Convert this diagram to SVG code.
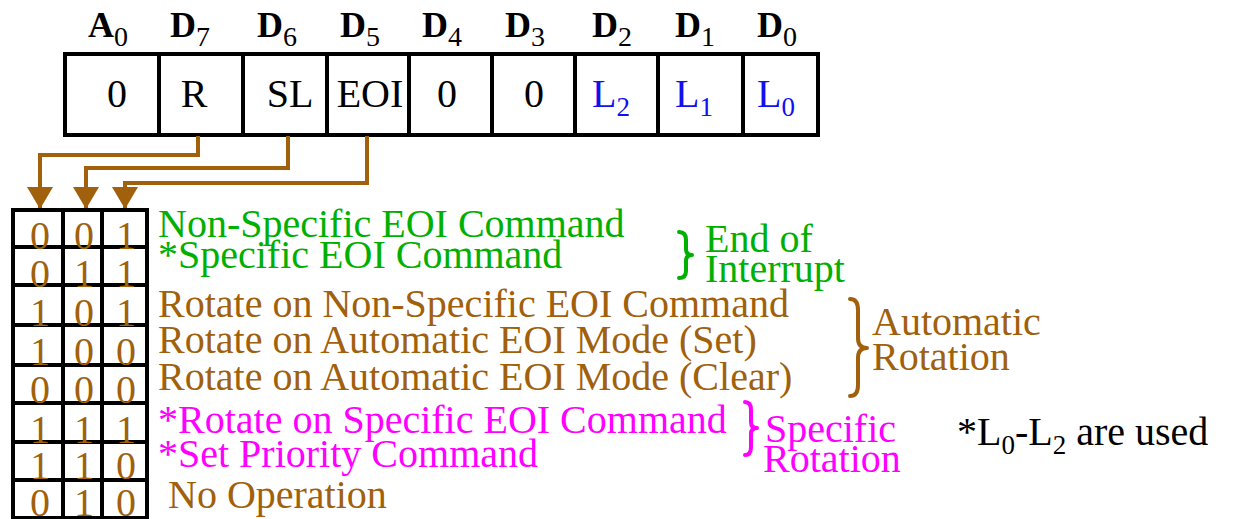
<svg xmlns="http://www.w3.org/2000/svg" width="1236" height="519" viewBox="0 0 1236 519">
  <style>
    text { font-family: "Liberation Serif", "Times New Roman", serif; }
    .hdr { font-size: 36px; font-weight: bold; fill: #000; }
    .hsub { font-size: 28px; font-weight: normal; }
    .cell { font-size: 40px; fill: #000; }
    .sub { font-size: 27px; }
    .blue { fill: #1010f0; }
    .line { fill: none; stroke: #000; stroke-width: 4; }
    .bit { font-size: 40px; fill: #a0600c; text-anchor: middle; }
    .desc { font-size: 40px; }
    .green { fill: #00b000; }
    .brown { fill: #a0600c; }
    .mag { fill: #ff00ff; }
    .wire { fill: none; stroke: #a0600c; stroke-width: 4; }
    .brace { fill: none; stroke-width: 4; stroke-linecap: round; stroke-linejoin: round; }
  </style>
  <defs>
    <!-- head drawn along +x; orient="auto" turns it to follow the wire -->
    <marker id="arrow" markerUnits="userSpaceOnUse" markerWidth="22" markerHeight="26" refX="21" refY="13" orient="auto" viewBox="0 0 22 26">
      <path d="M0,0 L22,13 L0,26 Z" fill="#a0600c"/>
    </marker>
  </defs>

  <rect width="1236" height="519" fill="#fff"/>

  <!-- bit position labels -->
  <g id="bit-labels">
    <text class="hdr" x="88" y="37">A<tspan class="hsub" dy="9">0</tspan></text>
    <text class="hdr" x="170" y="37">D<tspan class="hsub" dy="9">7</tspan></text>
    <text class="hdr" x="257" y="37">D<tspan class="hsub" dy="9">6</tspan></text>
    <text class="hdr" x="340" y="37">D<tspan class="hsub" dy="9">5</tspan></text>
    <text class="hdr" x="422" y="37">D<tspan class="hsub" dy="9">4</tspan></text>
    <text class="hdr" x="505" y="37">D<tspan class="hsub" dy="9">3</tspan></text>
    <text class="hdr" x="592" y="37">D<tspan class="hsub" dy="9">2</tspan></text>
    <text class="hdr" x="675" y="37">D<tspan class="hsub" dy="9">1</tspan></text>
    <text class="hdr" x="757" y="37">D<tspan class="hsub" dy="9">0</tspan></text>
  </g>

  <!-- OCW2 register -->
  <g id="register">
    <rect class="line" x="65" y="54" width="753" height="81"/>
    <path class="line" d="M159,54V135 M243,54V135 M327,54V135 M409,54V135 M492,54V135 M575,54V135 M658,54V135 M743,54V135"/>
    <text class="cell" x="117" y="107" text-anchor="middle">0</text>
    <text class="cell" x="194" y="107" text-anchor="middle">R</text>
    <text class="cell" x="290" y="107" text-anchor="middle">SL</text>
    <text class="cell" x="370" y="107" text-anchor="middle">EOI</text>
    <text class="cell" x="447" y="107" text-anchor="middle">0</text>
    <text class="cell" x="534" y="107" text-anchor="middle">0</text>
    <text class="cell blue" x="592" y="107">L<tspan class="sub" dy="9">2</tspan></text>
    <text class="cell blue" x="675" y="107">L<tspan class="sub" dy="9">1</tspan></text>
    <text class="cell blue" x="757" y="107">L<tspan class="sub" dy="9">0</tspan></text>
  </g>

  <!-- R, SL, EOI routed down to the truth table -->
  <g id="connectors">
    <path class="wire" d="M198,136 V155 H40 V208" marker-end="url(#arrow)"/>
    <path class="wire" d="M288,136 V168 H86 V208" marker-end="url(#arrow)"/>
    <path class="wire" d="M367,136 V183 H125 V208" marker-end="url(#arrow)"/>
  </g>

  <!-- R / SL / EOI combinations -->
  <g id="truth-table">
    <rect class="line" x="13" y="210" width="134" height="310"/>
    <path class="line" d="M63,210V520 M102,210V520 M13,247H147 M13,285H147 M13,325H147 M13,365H147 M13,403H147 M13,442H147 M13,480H147 M13,518H147"/>
    <text class="bit" x="40" y="249">0</text><text class="bit" x="84" y="249">0</text><text class="bit" x="126" y="249">1</text>
    <text class="bit" x="40" y="287">0</text><text class="bit" x="84" y="287">1</text><text class="bit" x="126" y="287">1</text>
    <text class="bit" x="40" y="326">1</text><text class="bit" x="84" y="326">0</text><text class="bit" x="126" y="326">1</text>
    <text class="bit" x="40" y="365">1</text><text class="bit" x="84" y="365">0</text><text class="bit" x="126" y="365">0</text>
    <text class="bit" x="40" y="403">0</text><text class="bit" x="84" y="403">0</text><text class="bit" x="126" y="403">0</text>
    <text class="bit" x="40" y="443">1</text><text class="bit" x="84" y="443">1</text><text class="bit" x="126" y="443">1</text>
    <text class="bit" x="40" y="479">1</text><text class="bit" x="84" y="479">1</text><text class="bit" x="126" y="479">0</text>
    <text class="bit" x="40" y="516">0</text><text class="bit" x="84" y="516">1</text><text class="bit" x="126" y="516">0</text>
  </g>

  <!-- command descriptions -->
  <g id="descriptions">
    <text class="desc green" x="158" y="237">Non-Specific EOI Command</text>
    <text class="desc green" x="158" y="268">*Specific EOI Command</text>
    <text class="desc brown" x="158" y="317">Rotate on Non-Specific EOI Command</text>
    <text class="desc brown" x="158" y="353">Rotate on Automatic EOI Mode (Set)</text>
    <text class="desc brown" x="158" y="390">Rotate on Automatic EOI Mode (Clear)</text>
    <text class="desc mag" x="158" y="433">*Rotate on Specific EOI Command</text>
    <text class="desc mag" x="158" y="467">*Set Priority Command</text>
    <text class="desc brown" x="168" y="508">No Operation</text>
  </g>

  <!-- groupings -->
  <g id="group-eoi">
    <path class="brace" stroke="#00b000" d="M679,232 Q686,232 686,240 L686,249 Q686,255 692,255 Q686,255 686,261 L686,271 Q686,278 679,278"/>
    <text class="desc green" x="705" y="252">End of</text>
    <text class="desc green" x="705" y="282">Interrupt</text>
  </g>
  <g id="group-auto">
    <path class="brace" stroke="#a0600c" d="M850,299 Q858,299 858,310 L858,338 Q858,348 867,348 Q858,348 858,358 L858,385 Q858,396 850,396"/>
    <text class="desc brown" x="872" y="335">Automatic</text>
    <text class="desc brown" x="872" y="370">Rotation</text>
  </g>
  <g id="group-specific">
    <path class="brace" stroke="#ff00ff" d="M745,402 Q751,402 751,410 L751,422 Q751,428 757,428 Q751,428 751,434 L751,447 Q751,455 745,455"/>
    <text class="desc mag" x="765" y="442">Specific</text>
    <text class="desc mag" x="763" y="472">Rotation</text>
  </g>

  <!-- footnote -->
  <g id="note">
    <text class="cell" x="957" y="445">*L<tspan class="sub" dy="9">0</tspan><tspan dy="-9">-L</tspan><tspan class="sub" dy="9">2</tspan><tspan dy="-9"> are used</tspan></text>
  </g>
</svg>
